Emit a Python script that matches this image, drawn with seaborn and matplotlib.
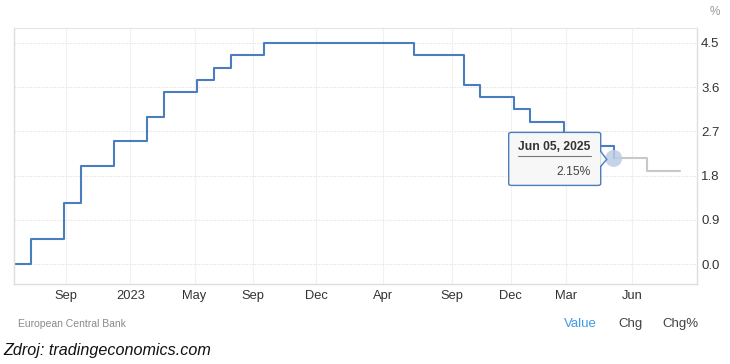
import numpy as np
import pandas as pd
import matplotlib
matplotlib.use("Agg")
import matplotlib.pyplot as plt
import seaborn as sns
from matplotlib.patches import FancyBboxPatch, Polygon
from matplotlib.lines import Line2D

# ---------------- data ----------------
months = pd.period_range("2022-06", "2025-06", freq="M").astype(str).tolist()
rate = [0.0, 0.5, 0.5, 1.25, 2.0, 2.0, 2.5, 2.5, 3.0, 3.5, 3.5, 3.75, 4.0, 4.25, 4.25,
        4.5, 4.5, 4.5, 4.5, 4.5, 4.5, 4.5, 4.5, 4.5,
        4.25, 4.25, 4.25, 3.65, 3.4, 3.4, 3.15, 2.9, 2.9, 2.65, 2.4, 2.4, 2.15]
forecast_months = ["2025-06", "2025-07", "2025-08", "2025-09", "2025-10"]
forecast = [2.15, 2.15, 1.9, 1.9, 1.9]
x_tick_labels = ["Sep", "2023", "May", "Sep", "Dec", "Apr", "Sep", "Dec", "Mar", "Jun"]
x_tick_pos = [3.13, 6.99, 10.84, 14.34, 18.13, 22.17, 26.27, 29.82, 33.13, 37.1]
y_ticks = [0.0, 0.9, 1.8, 2.7, 3.6, 4.5]
tooltip_date = "Jun 05, 2025"
tooltip_value = 2.15

start = pd.Period(months[0], freq="M")
def midx(m):
    return (pd.Period(m, freq="M") - start).n

df = pd.DataFrame({"x": [midx(m) for m in months], "rate": rate})
dff = pd.DataFrame({"x": [midx(m) for m in forecast_months], "rate": forecast})

# ---------------- figure ----------------
sns.set_style("white")
plt.rcParams["font.family"] = ["Liberation Sans", "DejaVu Sans"]

W, H = 730, 364
fig = plt.figure(figsize=(W / 100, H / 100), dpi=100)
L, R, T, B = 14, 697, 28, 284
ax = fig.add_axes([L / W, 1 - B / H, (R - L) / W, (B - T) / H])

BLUE = "#4a7dbe"
sns.lineplot(data=dff, x="x", y="rate", ax=ax, color="#c8c8c8", linewidth=1.5,
             drawstyle="steps-post", sort=False)
sns.lineplot(data=df, x="x", y="rate", ax=ax, color=BLUE, linewidth=1.5,
             drawstyle="steps-post", sort=False)

ax.set_xlim(0, 41.0)
ax.set_ylim(-0.407, 4.805)
ax.set_xlabel("")
ax.set_ylabel("")

ax.set_xticks(x_tick_pos)
ax.set_xticklabels(x_tick_labels)
ax.set_yticks(y_ticks)
ax.set_yticklabels([f"{v:.1f}" for v in y_ticks])
ax.yaxis.tick_right()
ax.tick_params(axis="both", length=0, colors="#333333")
ax.tick_params(axis="x", pad=4, labelsize=9.3)
ax.tick_params(axis="y", pad=3, labelsize=9.5)

ax.grid(True, color="#e4e4e4", linestyle=(0, (1.2, 1.2)), linewidth=0.8)
for s in ["left", "right", "bottom"]:
    ax.spines[s].set_color("#dedede")
    ax.spines[s].set_linewidth(1.0)
ax.spines["top"].set_color("#e4e4e4")
ax.spines["top"].set_linestyle((0, (1.2, 1.2)))
ax.spines["top"].set_linewidth(0.8)

# marker at tooltip point
px = midx(forecast_months[0])
ax.scatter([px], [tooltip_value], s=150, color="#bccde6", alpha=0.85, zorder=5,
           edgecolors="none")

# tooltip (offsets in pixels relative to point)
disp = ax.transData.transform((px, tooltip_value))
def to_fig(dx, dy):
    # dx, dy are pixel offsets (image coords, y down) from the point
    p = (disp[0] + dx, disp[1] - dy)
    return fig.transFigure.inverted().transform(p)

bx0, by0 = to_fig(-105, 27)
bx1, by1 = to_fig(-13, -26)
box = FancyBboxPatch((bx0, by0), bx1 - bx0, by1 - by0,
                     boxstyle="round,pad=0,rounding_size=0.004",
                     transform=fig.transFigure, facecolor="#f7f7f7",
                     edgecolor=BLUE, linewidth=1.0, zorder=10)
fig.patches.append(box)
# pointer
tri = Polygon([to_fig(-13.5, -7), to_fig(-7, 1), to_fig(-13.5, 8)], closed=True,
              transform=fig.transFigure, facecolor="#f7f7f7", edgecolor="none", zorder=11)
fig.patches.append(tri)
for a, b in [((-13, -7), (-7, 1)), ((-7, 1), (-13, 8))]:
    p0, p1 = to_fig(*a), to_fig(*b)
    fig.lines.append(Line2D([p0[0], p1[0]], [p0[1], p1[1]], transform=fig.transFigure,
                            color=BLUE, linewidth=1.0, zorder=12))

tx, ty = to_fig(-60, -11)
fig.text(tx, ty, tooltip_date, ha="center", va="center", fontsize=8.7,
         fontweight="bold", color="#333333", zorder=13)
u0, u1 = to_fig(-96, -2), to_fig(-23, -2)
fig.lines.append(Line2D([u0[0], u1[0]], [u0[1], u1[1]], transform=fig.transFigure,
                        color="#777777", linewidth=0.8, zorder=13))
vx, vy = to_fig(-23, 14)
fig.text(vx, vy, f"{tooltip_value:.2f}%", ha="right", va="center", fontsize=8.7,
         color="#444444", zorder=13)

# extra texts
fig.text(715 / W, 1 - 12 / H, "%", ha="center", va="center", fontsize=8.5,
         color="#999999")
fig.text(18 / W, 1 - 324 / H, "European Central Bank", ha="left", va="center",
         fontsize=7.5, color="#8a8a8a")
fig.text(580 / W, 1 - 324 / H, "Value", ha="center", va="center", fontsize=9.5,
         color="#3d9be9")
fig.text(630.5 / W, 1 - 324 / H, "Chg", ha="center", va="center", fontsize=9.5,
         color="#444444")
fig.text(680 / W, 1 - 324 / H, "Chg%", ha="center", va="center", fontsize=9.5,
         color="#444444")
fig.text(3 / W, 1 - 351 / H, "Zdroj: tradingeconomics.com", ha="left", va="center",
         fontsize=11.6, style="italic", color="#111111")

fig.savefig("out.png", dpi=100)
